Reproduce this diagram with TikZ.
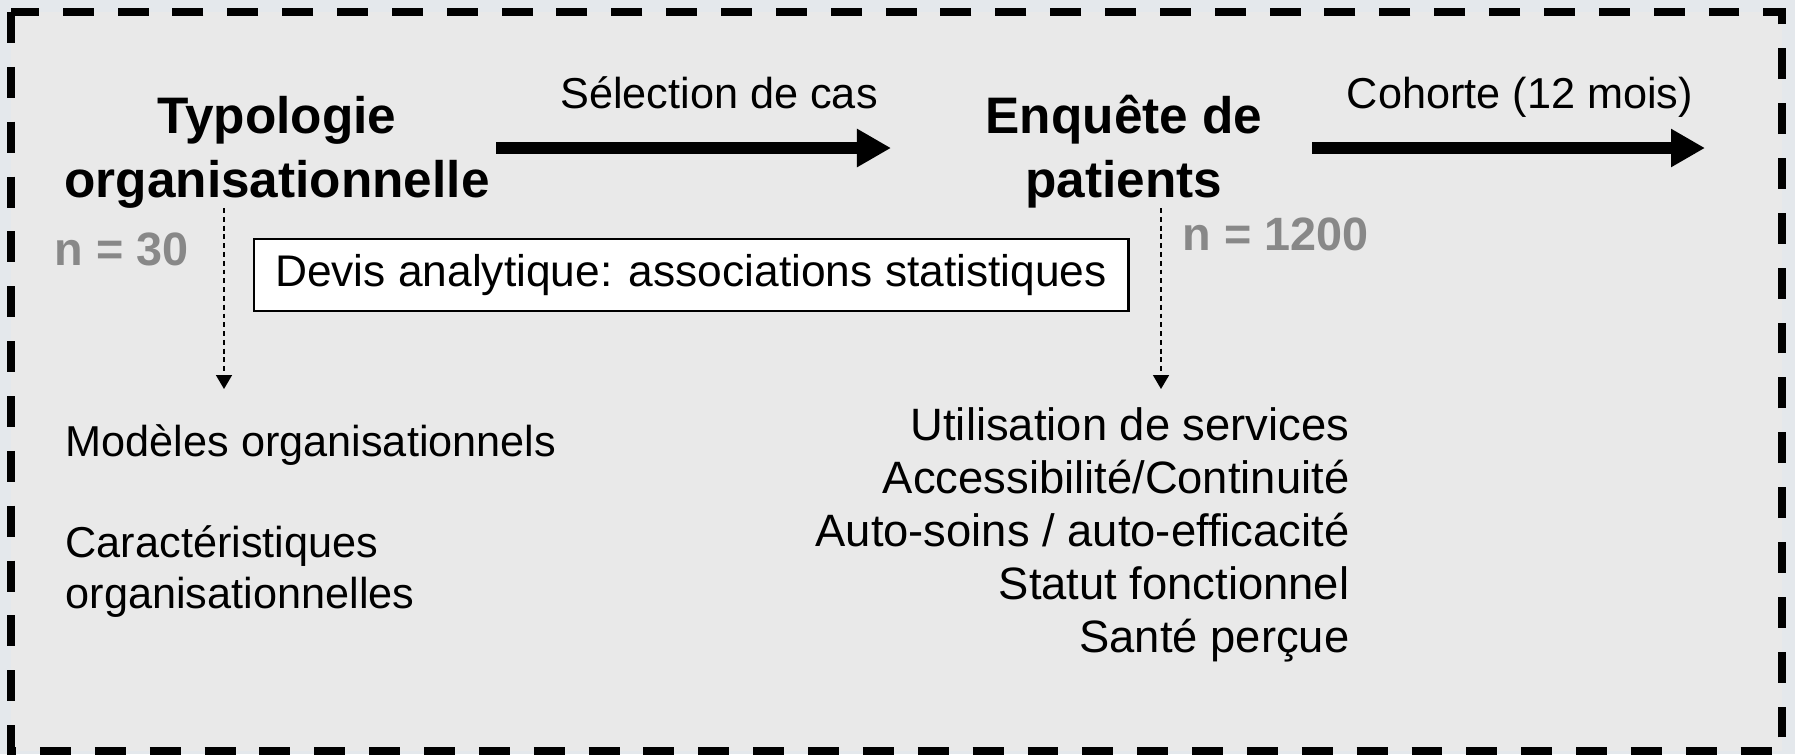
\documentclass[tikz,border=0pt]{standalone}
\usepackage{fontspec}
\setmainfont{Liberation Sans}
\usetikzlibrary{arrows.meta,positioning}
\definecolor{outerbg}{HTML}{E4E8EC}
\definecolor{innerbg}{HTML}{E9E9E9}
\definecolor{ngray}{HTML}{888888}

\begin{document}
\begin{tikzpicture}[x=0.01cm,y=-0.01cm]

\def\step{53}
\def\lx{65}

\tikzset{
        every node/.style={font=\fontsize{12.3}{14.5}\selectfont, inner sep=0pt},
        stage/.style={font=\fontsize{14.6}{18.2}\selectfont\bfseries, align=center, anchor=base},
        sample/.style={font=\fontsize{13.3}{15}\selectfont\bfseries, ngray, anchor=base west},
        flowarrow/.style={-{Triangle[length=.34cm,width=.36cm]}, line width=.12cm},
        linkarrow/.style={-{Triangle[length=.14cm,width=.16cm]}, line width=.45pt, dash pattern=on 1.4pt off 1.1pt},
        dashframe/.style={line width=.08cm, dash pattern=on 8.8pt off 6.8pt},
        devisbox/.style={draw, fill=white, line width=.7pt, minimum width=8.74cm, minimum height=.72cm, font=\fontsize{12.6}{15}\selectfont},
        outcome/.style={anchor=base east, font=\fontsize{12.9}{15}\selectfont},
        factor/.style={anchor=base west, align=left}
}

% fond et cadre
\fill[outerbg] (0,0) rectangle (1795,754);
\useasboundingbox (0,0) rectangle (1795,754);
\fill[innerbg] (11,12) rectangle (1782,751);
\draw[dashframe] (11,12) rectangle (1782,751);

% etapes (base = ligne du bas)
\node[stage] (TYPO) at (277,197) {Typologie\\organisationnelle};
\node[stage] (ENQ) at (1124,197) {Enquête de\\patients};

\node[sample] (N30) at (54,265) {n = 30};
\node[sample] (N1200) at (1182,250) {n = 1200};

\coordinate (SELs) at (496,148);
\coordinate (SELe) at (891,148);
\coordinate (COHs) at (1312,148);
\coordinate (COHe) at (1705,148);

\draw[flowarrow] (SELs) -- (SELe);
\draw[flowarrow] (COHs) -- (COHe);
\node[anchor=base] (SEL) at (719,108) {Sélection de cas};
\node[anchor=base] (COH) at (1520,108) {Cohorte (12 mois)};

\node[devisbox] (DEVIS) at (691,275) {Devis analytique: associations statistiques};

% fleches pointillees
\coordinate (L1s) at (224,208);
\coordinate (L1e) at (224,389);
\coordinate (L2s) at (1161,208);
\coordinate (L2e) at (1161,389);
\draw[linkarrow] (L1s) -- (L1e);
\draw[linkarrow] (L2s) -- (L2e);

% variables
\node[factor] (MOD) at (\lx,456) {Modèles organisationnels};
\node[factor] (CAR) at (\lx,608) {Caractéristiques\\organisationnelles};

\foreach \t [count=\i] in {Utilisation de services,Accessibilité/Continuité,Auto-soins / auto-efficacité,Statut fonctionnel,Santé perçue} {
     \node[outcome] (OUT\i) at (1350,{387+\step*\i}) {\t};
}

\end{tikzpicture}
\end{document}
